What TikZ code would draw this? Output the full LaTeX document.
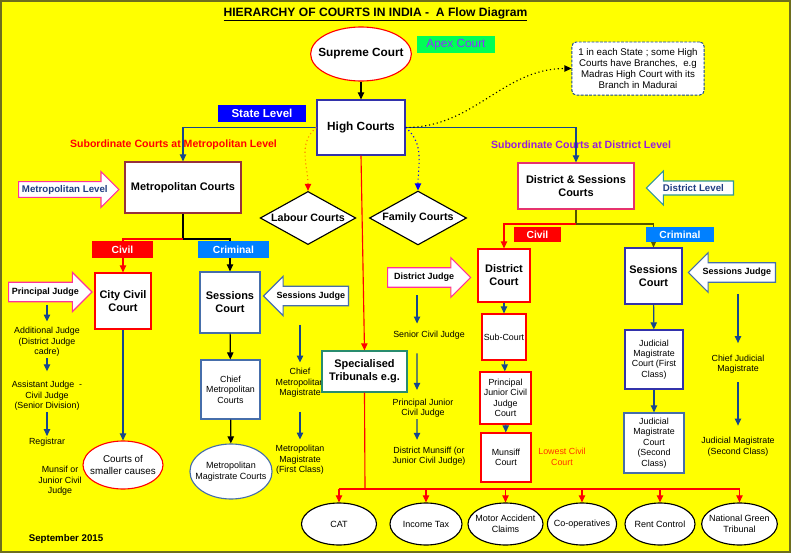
\documentclass[tikz,border=0pt]{standalone}
\usepackage{fontspec}
\setmainfont{Liberation Sans}
\usepackage{xcolor}
\usepackage{tikz}
\usetikzlibrary{shapes.geometric,shapes.arrows,arrows.meta}

\definecolor{bgyellow}{RGB}{255,255,0}
\definecolor{frameolive}{RGB}{110,110,30}
\definecolor{judgeblue}{RGB}{22,70,140}
\definecolor{pinkline}{RGB}{255,51,153}
\definecolor{crimblue}{RGB}{0,128,255}
\definecolor{apexgreen}{RGB}{0,255,85}
\definecolor{apexviolet}{RGB}{140,50,255}
\definecolor{distviolet}{RGB}{150,30,220}
\definecolor{metrobrown}{RGB}{150,50,60}
\definecolor{dsred}{RGB}{230,50,110}
\definecolor{tribteal}{RGB}{40,140,110}
\definecolor{slateblue}{RGB}{70,110,170}
\definecolor{hcblue}{RGB}{50,50,170}
\definecolor{textnavy}{RGB}{30,60,130}
\definecolor{splitolive}{RGB}{85,85,0}
\definecolor{levelteal}{RGB}{50,150,150}
\definecolor{lowestred}{RGB}{255,50,0}

\tikzset{
  court/.style={draw, fill=white, line width=0.8pt, align=center, inner sep=1pt,
    font=\fontsize{7.8}{9.2}\selectfont\bfseries},
  minor/.style={draw, fill=white, line width=0.8pt, align=center, inner sep=1pt,
    font=\fontsize{6.3}{7.4}\selectfont},
  oval/.style={ellipse, draw, fill=white, line width=0.8pt, align=center, inner sep=0pt,
    font=\fontsize{6.4}{7.6}\selectfont},
  tribunal/.style={oval, inner xsep=-2.5pt, minimum height=1.05cm},
  note/.style={align=center, inner sep=1pt, font=\fontsize{6.3}{7.4}\selectfont},
  tag/.style={align=center, text=white, inner sep=0pt,
    font=\fontsize{7.3}{8}\selectfont\bfseries},
  pointer/.style={single arrow, draw, fill=white, line width=0.8pt, inner ysep=3pt,
    inner xsep=2pt, single arrow head extend=0.25cm, font=\fontsize{6.4}{7}\selectfont\bfseries},
  dia/.style={diamond, draw, fill=white, line width=0.8pt, aspect=1.8, inner sep=1pt,
    font=\fontsize{7.6}{9}\selectfont\bfseries},
  link/.style={line width=0.8pt},
  jarr/.style={line width=0.9pt, judgeblue, ->},
  >={Triangle[length=5pt,width=4.5pt]},
}

\begin{document}
\begin{tikzpicture}[x=0.025cm, y=-0.025cm]
  \useasboundingbox (0,0) rectangle (791,553);
  \fill[bgyellow] (0,0) rectangle (791,553);
  \draw[frameolive, line width=1.2pt] (0.8,0.8) rectangle (790.2,552.2);

  \node[font=\fontsize{8.6}{10}\selectfont\bfseries] (title) at (375.5,14.5)
    {\underline{HIERARCHY OF COURTS IN INDIA -\ \ A Flow Diagram}};

  \node[oval, draw=red, inner xsep=-5pt, minimum width=2.5cm, minimum height=1.35cm,
    font=\fontsize{8.4}{10}\selectfont\bfseries] (supreme) at (361,54) {Supreme Court};
  \node[fill=apexgreen, text=apexviolet, minimum width=1.95cm, minimum height=0.425cm,
    inner sep=0pt, font=\fontsize{8.4}{10}\selectfont] (apex) at (456,44.5) {Apex Court};
  \node[note, draw=judgeblue, dash pattern=on 2pt off 1pt, rounded corners=3pt, fill=white,
    line width=0.7pt, minimum width=3.3cm, minimum height=1.325cm,
    font=\fontsize{6.9}{7.8}\selectfont] (branch) at (638,68.5)
    {1 in each State ; some High\\Courts have Branches,\ \ e.g\\Madras High Court with its\\Branch in Madurai};

  \node[court, draw=hcblue, minimum width=2.2cm, minimum height=1.375cm,
    font=\fontsize{8.4}{10}\selectfont\bfseries] (high) at (361,127.5) {High Courts};
  \node[tag, fill=blue, minimum width=2.2cm, minimum height=0.425cm,
    font=\fontsize{8.2}{9}\selectfont\bfseries] (state) at (262,113.5) {State Level};

  \node[text=red, font=\fontsize{7.5}{9}\selectfont\bfseries] (submetro) at (173.5,145)
    {Subordinate Courts at Metropolitan Level};
  \node[text=distviolet, font=\fontsize{7.5}{9}\selectfont\bfseries] (subdist) at (581,145)
    {Subordinate Courts at District Level};

  \node[court, draw=metrobrown, minimum width=2.9cm, minimum height=1.275cm] (metro)
    at (183,187.5) {Metropolitan Courts};
  \node[court, draw=dsred, minimum width=2.9cm, minimum height=1.15cm] (dsc)
    at (576,186) {District \& Sessions\\Courts};
  \node[pointer, draw=pinkline, text=textnavy, inner ysep=2pt, minimum height=2.375cm,
    minimum width=0.825cm, anchor=tail, font=\fontsize{6.9}{8}\selectfont\bfseries]
    (metrolevel) at (18,189.5) {Metropolitan Level};
  \node[pointer, shape border rotate=180, draw=levelteal, text=textnavy, inner ysep=2pt,
    minimum height=2.175cm, minimum width=0.85cm, anchor=tail,
    font=\fontsize{6.9}{8}\selectfont\bfseries] (distlevel) at (734,188) {District Level};

  \node[dia, minimum width=2.35cm, minimum height=1.325cm] (labour) at (308,218) {Labour Courts};
  \node[dia, minimum width=2.375cm, minimum height=1.325cm] (family) at (418,218) {Family Courts};

  \node[court, draw=red, minimum width=1.4cm, minimum height=1.4cm] (citycivil)
    at (123,301) {City Civil\\Court};
  \node[pointer, draw=pinkline, minimum height=2cm, minimum width=0.95cm, anchor=tail,
    inner ysep=3.5pt] (prjudge) at (8,292) {Principal Judge};
  \node[court, draw=slateblue, minimum width=1.5cm, minimum height=1.525cm] (sessm)
    at (230,302.5) {Sessions\\Court};
  \node[pointer, shape border rotate=180, draw=slateblue, minimum height=2.075cm,
    minimum width=0.95cm, anchor=tail, inner ysep=3.5pt] (sjm) at (349,296) {Sessions Judge};
  \node[minor, draw=slateblue, minimum width=1.475cm, minimum height=1.475cm] (cmcourt)
    at (230.5,389.5) {Chief\\Metropolitan\\Courts};
  \node[oval, draw=slateblue, inner xsep=-4.6pt, minimum width=2.05cm, minimum height=1.375cm]
    (mmcourt) at (231,471.5) {Metropolitan\\Magistrate Courts};
  \node[oval, draw=red, inner xsep=-3.4pt, minimum width=2cm, minimum height=1.2cm,
    font=\fontsize{7}{8.2}\selectfont] (smaller) at (123,465) {Courts of\\smaller causes};

  \node[note] (addj) at (47,342) {Additional Judge\\(District Judge\\cadre)};
  \node[note] (asstj) at (47,396) {Assistant Judge\ \ -\\Civil Judge\\(Senior Division)};
  \node[note] (registrar) at (47,442) {Registrar};
  \node[note] (munsif) at (60,481) {Munsif or\\Junior Civil\\Judge};

  \node[note] (cmmag) at (300,383) {Chief\\Metropolitan\\Magistrate};
  \node[note] (mmag) at (300,460) {Metropolitan\\Magistrate\\(First Class)};

  \node[court, draw=tribteal, minimum width=2.125cm, minimum height=1.025cm] (special)
    at (364.5,371.5) {Specialised\\Tribunals e.g.};

  \node[pointer, draw=pinkline, minimum height=2.075cm, minimum width=0.975cm, anchor=tail,
    inner ysep=3.5pt] (djudge) at (387,277.5) {District Judge};
  \node[court, draw=red, minimum width=1.3cm, minimum height=1.325cm] (dcourt)
    at (504,275.5) {District\\Court};
  \node[minor, draw=red, minimum width=1.1cm, minimum height=1.15cm] (subcourt)
    at (504,337) {Sub-Court};
  \node[minor, draw=red, minimum width=1.275cm, minimum height=1.3cm] (pjcourt)
    at (505.5,398) {Principal\\Junior Civil\\Judge\\Court};
  \node[minor, draw=red, minimum width=1.25cm, minimum height=1.225cm] (munsiffc)
    at (506,457.5) {Munsiff\\Court};
  \node[note, text=lowestred] (lowest) at (562,457) {Lowest Civil\\Court};

  \node[note] (scjudge) at (429,335) {Senior Civil Judge};
  \node[note] (pjcjudge) at (423,408) {Principal Junior\\Civil Judge};
  \node[note] (dmunsiff) at (429,456.5) {District Munsiff (or\\Junior Civil Judge)};

  \node[court, draw=hcblue, minimum width=1.425cm, minimum height=1.4cm] (sessd)
    at (653.5,276) {Sessions\\Court};
  \node[pointer, shape border rotate=180, draw=slateblue, minimum height=2.175cm,
    minimum width=0.975cm, anchor=tail, inner ysep=3.5pt] (sjd) at (776,272.5) {Sessions Judge};
  \node[minor, draw=hcblue, minimum width=1.45cm, minimum height=1.475cm] (jmfirst)
    at (654,359.5) {Judicial\\Magistrate\\Court (First\\Class)};
  \node[minor, draw=slateblue, minimum width=1.5cm, minimum height=1.5cm] (jmsecond)
    at (654,443) {Judicial\\Magistrate\\Court\\(Second\\Class)};

  \node[note] (cjmag) at (738,364) {Chief Judicial\\Magistrate};
  \node[note] (jmag) at (738,446.5) {Judicial Magistrate\\(Second Class)};

  \node[tribunal, minimum width=1.875cm] (cat) at (339,524) {CAT};
  \node[tribunal, minimum width=1.8cm] (itax) at (426,524) {Income Tax};
  \node[tribunal, minimum width=1.875cm] (motor) at (505.5,524) {Motor Accident\\Claims};
  \node[tribunal, minimum width=1.7cm] (coop) at (582,524) {Co-operatives};
  \node[tribunal, minimum width=1.75cm] (rent) at (660,524) {Rent Control};
  \node[tribunal, minimum width=1.875cm] (ngt) at (739.5,524) {National Green\\Tribunal};

  \node[font=\fontsize{6.9}{8}\selectfont\bfseries] (date) at (66,539) {September 2015};

  \coordinate (metrosplit) at (183,239);
  \coordinate (distsplit) at (576,224);
  \coordinate (tribbus) at (365,489);

  \draw[link, ->] (supreme) -- (high);
  \draw[link, judgeblue, ->] (high.west) -| (metro.north);
  \draw[link, judgeblue, ->] (high.east) -| (dsc.north);
  \draw[dotted, line width=0.8pt, ->] (high.east) to[out=0, in=180] (branch.west);
  \draw[dotted, line width=0.8pt, orange, -{Triangle[length=5pt,width=4.5pt,color=red]}]
    (high.west) to[out=220, in=90] (labour.north);
  \draw[dotted, line width=0.8pt, blue, ->] (high.east) to[out=-40, in=90] (family.north);
  \draw[link, red, ->] (high.south) -- (special.north);
  \draw[link, red] (special.south) -- (tribbus);
  \draw[link, red] (cat.north |- tribbus) -- (ngt.north |- tribbus);
  \foreach \t in {cat,itax,motor,coop,rent,ngt}
    \draw[link, red, ->] (\t.north |- tribbus) -- (\t.north);

  \draw[link] (metro.south) -- (metrosplit);
  \draw[link, red, ->] (metrosplit) -| (citycivil.north);
  \draw[link, ->] (metrosplit) -| (sessm.north);
  \draw[link, splitolive] (dsc.south) -- (distsplit);
  \draw[link, red, ->] (distsplit) -| (dcourt.north);
  \draw[link, splitolive, ->] (distsplit) -| (sessd.north);

  \draw[link, judgeblue, ->] (citycivil) -- (smaller);
  \draw[link, ->] (sessm) -- (cmcourt);
  \draw[link, ->] (cmcourt) -- (mmcourt);
  \draw[link, judgeblue, ->] (dcourt) -- (subcourt);
  \draw[link, judgeblue, ->] (subcourt) -- (pjcourt);
  \draw[link, judgeblue, ->] (pjcourt) -- (munsiffc);
  \draw[link, judgeblue, ->] (sessd) -- (jmfirst);
  \draw[link, judgeblue, ->] (jmfirst) -- (jmsecond);

  \draw[jarr, shorten >=3pt] ([yshift=15pt]addj.north) -- (addj.north);
  \draw[jarr, shorten >=6pt] (addj.south) -- (asstj.north);
  \draw[jarr] (asstj.south) -- (registrar.north);
  \draw[jarr, shorten >=3pt] ([yshift=30pt]cmmag.north) -- (cmmag.north);
  \draw[jarr, shorten <=9pt, shorten >=3pt] (cmmag.south) -- (mmag.north);
  \draw[jarr, shorten >=4pt] ([xshift=-8.5pt,yshift=24pt]scjudge.north) -- ([xshift=-8.5pt]scjudge.north);
  \draw[jarr, shorten <=9pt, shorten >=5pt] ([xshift=-8.5pt]scjudge.south) -- ([xshift=-4.3pt]pjcjudge.north);
  \draw[jarr, shorten >=4pt] ([xshift=-4.3pt]pjcjudge.south) -- ([xshift=-8.5pt]dmunsiff.north);
  \draw[jarr, shorten >=7pt] ([yshift=42pt]cjmag.north) -- (cjmag.north);
  \draw[jarr, shorten <=5pt, shorten >=7pt] (cjmag.south) -- (jmag.north);

  \node[tag, fill=red, minimum width=1.525cm, minimum height=0.425cm] (civilm) at (122.5,249.5) {Civil};
  \node[tag, fill=crimblue, minimum width=1.775cm, minimum height=0.425cm] (crimm) at (233.5,249.5) {Criminal};
  \node[tag, fill=red, minimum width=1.175cm, minimum height=0.375cm] (civild) at (537.5,234.5) {Civil};
  \node[tag, fill=crimblue, minimum width=1.7cm, minimum height=0.375cm] (crimd) at (680,234.5) {Criminal};
\end{tikzpicture}
\end{document}
